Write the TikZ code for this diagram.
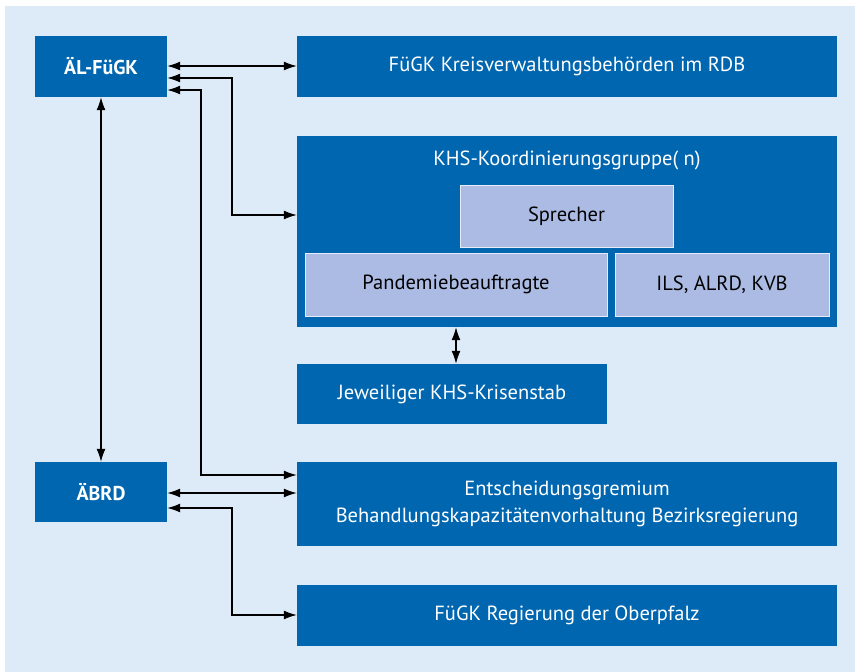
\documentclass[tikz,border=0pt]{standalone}
\usepackage{fontspec}
\setmainfont{PT Sans}
\usetikzlibrary{arrows.meta}
\definecolor{bg}{HTML}{DDEAF7}
\definecolor{dblue}{HTML}{0066B0}
\definecolor{lblue}{HTML}{ABBBE3}
\tikzset{
  txt/.style={font=\fontsize{20.5}{27}\selectfont},
  dbox/.style={fill=dblue, draw=none, text=white, txt, align=center},
  ibox/.style={fill=lblue, draw=white!70!lblue, line width=1pt, text=black, txt},
  conn/.style={line width=1.3pt, {Latex[length=13pt,width=9pt]}-{Latex[length=13pt,width=9pt]}},
}
\begin{document}
\begin{tikzpicture}[x=1pt,y=-1pt]
\useasboundingbox (0,0) rectangle (855,672);
\fill[bg] (5,6) rectangle (855,672);
% boxes
\node[dbox, minimum width=132pt, minimum height=61pt, font=\bfseries\fontsize{20}{24}\selectfont] (al) at (101,66.5) {ÄL-FüGK};
\node[dbox, minimum width=540pt, minimum height=61pt] (kreis) at (567,66.5) {FüGK Kreisverwaltungsbehörden im RDB};
\node[dbox, minimum width=540pt, minimum height=191pt] (khs) at (567,231.5) {};
\node[text=white, txt] (khst) at (567,160) {KHS-Koordinierungsgruppe( n)};
\node[ibox, minimum width=213pt, minimum height=62pt] (spr) at (566.5,216) {Sprecher};
\node[ibox, minimum width=302pt, minimum height=63pt] (pan) at (456,284.5) {Pandemiebeauftragte};
\node[ibox, minimum width=214pt, minimum height=63pt] (ils) at (722,284.5) {ILS, ALRD, KVB};
\node[dbox, minimum width=310pt, minimum height=60pt] (jew) at (452,394) {Jeweiliger KHS-Krisenstab};
\node[dbox, minimum width=132pt, minimum height=60pt, font=\bfseries\fontsize{20}{24}\selectfont] (abrd) at (101,492) {ÄBRD};
\node[dbox, minimum width=540pt, minimum height=84pt] (ent) at (567,504) {Entscheidungsgremium\\Behandlungskapazitätenvorhaltung Bezirksregierung};
\node[dbox, minimum width=540pt, minimum height=61pt] (ober) at (567,615.5) {FüGK Regierung der Oberpfalz};
% connectors
\coordinate (a1) at (232,78);
\coordinate (a2) at (232,215);
\coordinate (b1) at (201,90);
\coordinate (b2) at (201,475);
\coordinate (c1) at (232,508);
\coordinate (c2) at (232,615);
\draw[conn] (al.east |- 0,66) -- (kreis.west |- 0,66);
\draw[conn] (al.east |- a1) -- (a1) -- (a2) -- (khs.west |- a2);
\draw[conn] (al.east |- b1) -- (b1) -- (b2) -- (ent.west |- b2);
\draw[conn] (abrd.east |- 0,493) -- (ent.west |- 0,493);
\draw[conn] (abrd.east |- c1) -- (c1) -- (c2) -- (ober.west |- c2);
\draw[conn] (al.south) -- (abrd.north);
\draw[conn] (khs.south -| 456,0) -- (jew.north -| 456,0);
\end{tikzpicture}
\end{document}
